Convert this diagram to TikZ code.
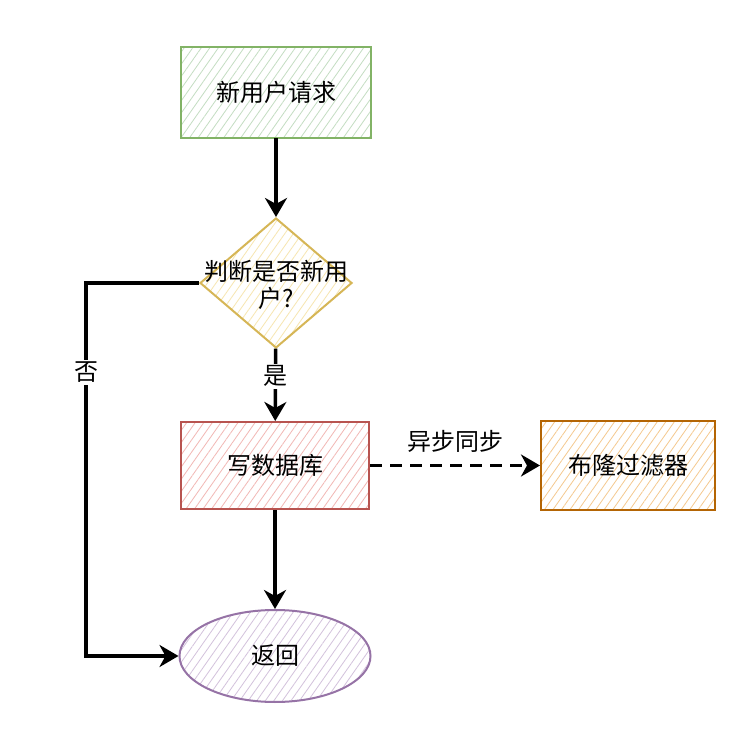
\documentclass[tikz,border=0pt]{standalone}
\usepackage{fontspec}
\setmainfont{Noto Sans CJK SC}
\usetikzlibrary{shapes.geometric,arrows.meta,patterns.meta}
\definecolor{gline}{HTML}{82B366}\definecolor{gfill}{HTML}{C4DDC2}
\definecolor{yline}{HTML}{D6B656}\definecolor{yfill}{HTML}{F7E6B0}
\definecolor{rline}{HTML}{B85450}\definecolor{rfill}{HTML}{F2B8B5}
\definecolor{oline}{HTML}{B46504}\definecolor{ofill}{HTML}{F5C98F}
\definecolor{pline}{HTML}{9673A6}\definecolor{pfill}{HTML}{D3C2DC}
\tikzset{
  shapebox/.style={draw, line width=2pt, inner sep=0pt, font=\fontsize{24}{27}\selectfont,
    pattern={Lines[angle=55,distance=7pt,line width=0.8pt]}},
  arr/.style={line width=3.5pt, -{Stealth[length=19pt,width=22pt,inset=6pt]}},
  lbl/.style={font=\fontsize{24}{27}\selectfont, fill=white, inner sep=2pt},
}
\begin{document}
\begin{tikzpicture}[x=1pt,y=-1pt]
\useasboundingbox[fill=white] (0,0) rectangle (756,738);
\node[shapebox, rectangle, draw=gline, pattern color=gfill, minimum width=190pt, minimum height=91pt] (req) at (276,92.5) {新用户请求};
\node[shapebox, diamond, draw=yline, pattern color=yfill, minimum width=152pt, minimum height=130pt] (dec) at (276,283) {};
\node[font=\fontsize{24}{27}\selectfont, align=center, inner sep=0pt] (dect) at (276,285) {判断是否新用\\户?};
\node[shapebox, rectangle, draw=rline, pattern color=rfill, minimum width=188pt, minimum height=87pt] (db) at (275,465.5) {写数据库};
\node[shapebox, rectangle, draw=oline, pattern color=ofill, minimum width=174pt, minimum height=89pt] (bloom) at (628,465.5) {布隆过滤器};
\node[shapebox, ellipse, draw=pline, pattern color=pfill, minimum width=191pt, minimum height=92pt] (ret) at (275,656) {返回};
\coordinate (corner) at (86,283);
\draw[arr] (req) -- (dec);
\draw[arr] (dec) -- node[lbl, pos=0.38] (yes) {是} (db);
\draw[arr, dash pattern=on 12pt off 8pt] (db) -- node[font=\fontsize{24}{27}\selectfont, above=8pt] (async) {异步同步} (bloom);
\draw[arr] (db) -- (ret);
\draw[arr] (dec.west) -- (corner) |- node[lbl, pos=0.12] (no) {否} (ret.west);
\end{tikzpicture}
\end{document}
